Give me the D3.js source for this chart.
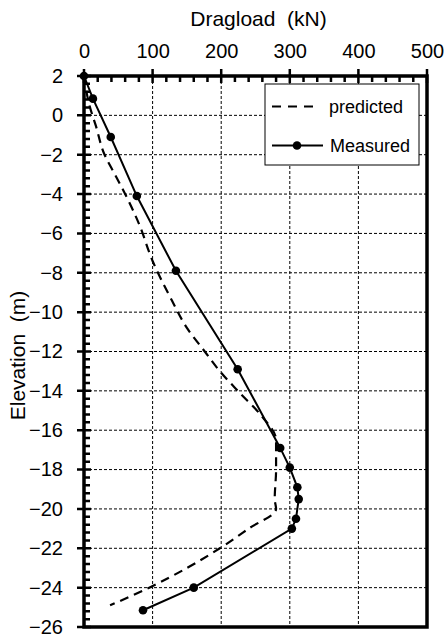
<!DOCTYPE html>
<html>
<head>
<meta charset="utf-8">
<script src="https://cdn.jsdelivr.net/npm/d3@7"></script>
<style>
    body { margin: 0; background: #fff; }
    svg { display: block; font-family: "Liberation Sans", Arial, sans-serif; }
    .axis path { display: none; }
    .axis text { fill: #000; }
</style>
</head>
<body>
<div id="chart"></div>
<script>
// dragload (kN) vs elevation (m)
const xTicks = [0, 100, 200, 300, 400, 500];
const yTicks = [2, 0, -2, -4, -6, -8, -10, -12, -14, -16, -18, -20, -22, -24, -26];

const predictedLoad = [0, 8, 17, 30, 45, 60, 80, 100, 128, 150, 176, 198, 227, 257, 280, 280, 278, 280, 240, 198, 95, 38];
const predictedElev = [2, 0.5, -0.5, -2, -3, -4, -5.5, -7.4, -9.4, -10.8, -12, -13, -14.1, -15.2, -16.5, -18, -19.5, -20, -21, -22, -24, -24.9];

const measuredLoad = [0, 13, 39, 77, 134, 224, 286, 300, 311, 313, 309, 303, 160, 86];
const measuredElev = [2, 0.85, -1.1, -4.1, -7.9, -12.9, -16.9, -17.9, -18.9, -19.5, -20.5, -21, -24, -25.15];

const W = 445, H = 635;
const margin = { top: 76, right: 18, bottom: 8, left: 84 };

const svg = d3.select("#chart").append("svg")
    .attr("width", W)
    .attr("height", H);

const x = d3.scaleLinear().domain([0, 500]).range([margin.left, W - margin.right]);
const y = d3.scaleLinear().domain([-26, 2]).range([H - margin.bottom, margin.top]);

const xMinor = d3.range(0, 501, 20).filter(v => v % 100 !== 0);
const yMinor = d3.range(-26, 2.01, 0.4).map(v => +v.toFixed(1)).filter(v => Math.abs(v % 2) > 0.01);

// grid
const grid = svg.append("g").attr("class", "grid")
    .attr("stroke", "#000").attr("stroke-width", 1).attr("stroke-dasharray", "3,2");
grid.selectAll(".gx").data(xTicks.slice(1, -1)).join("line")
    .attr("x1", d => x(d)).attr("x2", d => x(d))
    .attr("y1", y(2)).attr("y2", y(-26));
grid.selectAll(".gy").data(yTicks.slice(1, -1)).join("line")
    .attr("x1", x(0)).attr("x2", x(500))
    .attr("y1", d => y(d)).attr("y2", d => y(d));

// tick labels through d3 axes
svg.append("g").attr("class", "axis")
    .attr("transform", `translate(0,${y(2)})`)
    .call(d3.axisTop(x).tickValues(xTicks).tickSize(0).tickPadding(18))
    .call(g => g.selectAll("text").attr("font-size", 20));
svg.append("g").attr("class", "axis")
    .attr("transform", `translate(${x(0)},0)`)
    .call(d3.axisLeft(y).tickValues(yTicks).tickSize(0).tickPadding(21))
    .call(g => g.selectAll("text").attr("font-size", 20));

// tick marks: majors cross the frame, minors point inward
const tickPath = d3.path();
xTicks.forEach(v => { tickPath.moveTo(x(v), y(2) - 7); tickPath.lineTo(x(v), y(2) + 7); });
xMinor.forEach(v => { tickPath.moveTo(x(v), y(2)); tickPath.lineTo(x(v), y(2) + 6); });
yTicks.forEach(v => { tickPath.moveTo(x(0) - 7, y(v)); tickPath.lineTo(x(0) + 7, y(v)); });
yMinor.forEach(v => { tickPath.moveTo(x(0), y(v)); tickPath.lineTo(x(0) + 6, y(v)); });
svg.append("path")
    .attr("d", tickPath.toString())
    .attr("fill", "none")
    .attr("stroke", "#000")
    .attr("stroke-width", 2.5);

// frame
svg.append("rect")
    .attr("x", x(0)).attr("y", y(2))
    .attr("width", x(500) - x(0)).attr("height", y(-26) - y(2))
    .attr("fill", "none").attr("stroke", "#000").attr("stroke-width", 3.5);

// axis titles
svg.append("text")
    .attr("x", (x(0) + x(500)) / 2 + 3).attr("y", 26)
    .attr("text-anchor", "middle").attr("font-size", 21)
    .style("white-space", "pre")
    .text("Dragload  (kN)");
svg.append("text")
    .attr("transform", `translate(25,${(y(2) + y(-26)) / 2 + 4}) rotate(-90)`)
    .attr("text-anchor", "middle").attr("font-size", 21)
    .style("white-space", "pre")
    .text("Elevation  (m)");

// series
const predicted = predictedLoad.map((v, i) => [v, predictedElev[i]]);
const measured = measuredLoad.map((v, i) => [v, measuredElev[i]]);

svg.append("path").datum(predicted)
    .attr("d", d3.line().x(d => x(d[0])).y(d => y(d[1])).curve(d3.curveMonotoneY))
    .attr("fill", "none").attr("stroke", "#000").attr("stroke-width", 2.2)
    .attr("stroke-dasharray", "9,6");

svg.append("path").datum(measured)
    .attr("d", d3.line().x(d => x(d[0])).y(d => y(d[1])))
    .attr("fill", "none").attr("stroke", "#000").attr("stroke-width", 2);
svg.selectAll(".dot").data(measured).join("circle")
    .attr("cx", d => x(d[0])).attr("cy", d => y(d[1])).attr("r", 4.3)
    .attr("fill", "#000");

// legend
const legend = svg.append("g").attr("transform", "translate(265,84)");
legend.append("rect").attr("width", 154).attr("height", 81)
    .attr("fill", "#fff").attr("stroke", "#000").attr("stroke-width", 1);
legend.append("line").attr("x1", 7).attr("x2", 52).attr("y1", 22.5).attr("y2", 22.5)
    .attr("stroke", "#000").attr("stroke-width", 2.2).attr("stroke-dasharray", "9,7");
legend.append("text").attr("x", 64).attr("y", 29).attr("font-size", 18).text("predicted");
legend.append("line").attr("x1", 7).attr("x2", 58).attr("y1", 61.5).attr("y2", 61.5)
    .attr("stroke", "#000").attr("stroke-width", 2);
legend.append("circle").attr("cx", 32).attr("cy", 61.5).attr("r", 4.3).attr("fill", "#000");
legend.append("text").attr("x", 65).attr("y", 68).attr("font-size", 18).text("Measured");
</script>
</body>
</html>
